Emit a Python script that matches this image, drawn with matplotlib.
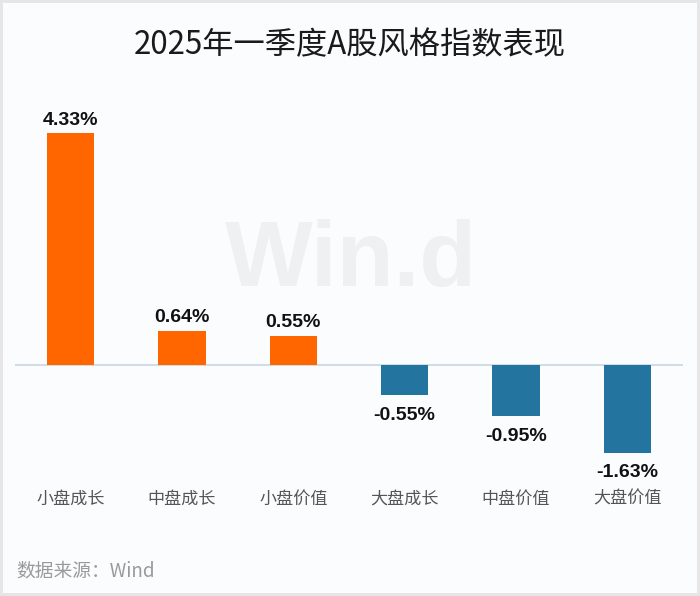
import matplotlib
matplotlib.use("Agg")
import matplotlib.pyplot as plt

categories = ["小盘成长", "中盘成长", "小盘价值", "大盘成长", "中盘价值", "大盘价值"]
returns = [4.33, 0.64, 0.55, -0.55, -0.95, -1.63]
labels = ["4.33%", "0.64%", "0.55%", "-0.55%", "-0.95%", "-1.63%"]

title = "2025年一季度A股风格指数表现"
source = "数据来源：Wind"

ORANGE = "#ff6600"
BLUE = "#23759f"
BG = "#fbfcfd"

plt.rcParams["font.family"] = ["Noto Sans CJK SC", "DejaVu Sans"]

fig = plt.figure(figsize=(7.0, 5.96), dpi=100, facecolor=BG)
fig.patch.set_edgecolor("#e6e6e6")
fig.patch.set_linewidth(3)

ax = fig.add_axes([15 / 700, 1 - 470 / 596, 668 / 700, 370 / 596])
ax.set_facecolor("none")

# watermark
fig.text(351 / 700, 1 - 262 / 596, "Win.d", fontsize=67, fontweight="bold",
         family="Liberation Sans", color="#eff0f2", ha="center", va="center", zorder=0)

x = list(range(len(categories)))
colors = [ORANGE if v >= 0 else BLUE for v in returns]
ax.bar(x, returns, width=0.425, color=colors, zorder=2)

for xi, v, lab in zip(x, returns, labels):
    off = 9.5 if v >= 0 else -14.5
    ax.annotate(lab, (xi, v), xytext=(0, off), textcoords="offset points",
                ha="center", va="center", fontsize=14, fontweight="bold",
                family="Liberation Sans", color="#111111")

ax.axhline(0, color="#c9d6e6", linewidth=1.2, zorder=1)
ax.set_xlim(-0.5, 5.5)
ax.set_ylim(-1.95, 4.95)
ax.set_yticks([])
ax.set_xticks(x)
ax.set_xticklabels(categories, fontsize=12.3, color="#555555")
ax.tick_params(axis="x", length=0, pad=14)
for s in ax.spines.values():
    s.set_visible(False)

fig.text(0.5, 1 - 45 / 596, title, fontsize=22.5, color="#1a1a1a", ha="center", va="center")
fig.text(16 / 700, 1 - 571 / 596, source, fontsize=13.5, color="#9a9a9a", ha="left", va="center")

fig.savefig("out.png", dpi=100, facecolor=fig.get_facecolor(), edgecolor=fig.patch.get_edgecolor())
